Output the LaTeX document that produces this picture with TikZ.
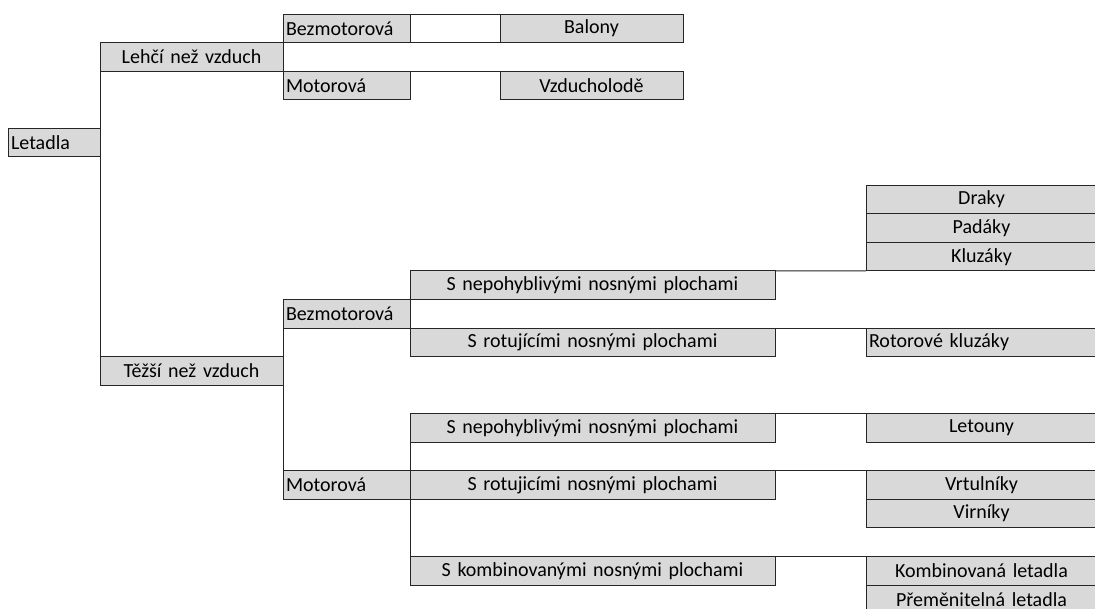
\documentclass[tikz,border=0pt]{standalone}
\usepackage{fontspec}
\setmainfont{Carlito}
\definecolor{cellgray}{HTML}{D9D9D9}
\definecolor{linec}{HTML}{262626}
\begin{document}
\begin{tikzpicture}[x=1pt,y=-1pt,
  cell/.style={draw=linec, fill=cellgray, line width=1pt, minimum height=28.55pt,
    inner xsep=3pt, inner ysep=0pt, outer sep=0pt, anchor=north west, text=black,
    font=\fontsize{20}{22}\selectfont},
  lc/.style={cell, text width=86pt, align=left},
  wl/.style={cell, text width=121pt, align=left},
  wc/.style={cell, text width=177pt, align=center},
  sc/.style={cell, text width=359pt, align=center},
  rc/.style={cell, text width=250pt, align=center},
  rl/.style={cell, text width=250pt, align=left},
  link/.style={draw=linec, line width=1pt}]
\newcommand{\rt}[1]{#1\hspace*{25pt}}
\useasboundingbox (0,0) rectangle (1095,608);
\clip (0,0) rectangle (1095,608);
\fill[white] (0,0) rectangle (1095,608);
% upper part
\node[wl] (bez1) at (283,14) {Bezmotorová};
\node[wc] (bal) at (500,14) {Balony};
\node[wc] (leh) at (100,42.55) {Lehčí než vzduch};
\node[wl] (mot1) at (283,71.1) {Motorová};
\node[wc] (vzd) at (500,71.1) {Vzducholodě};
\node[lc] (let) at (8,128.2) {Letadla};
% right column
\node[rc] (dra) at (866,185.3) {\rt{Draky}};
\node[rc] (pad) at (866,213.85) {\rt{Padáky}};
\node[rc] (klu) at (866,242.4) {\rt{Kluzáky}};
% lower part
\node[sc] (sn1) at (410,270.95) {S nepohyblivými nosnými plochami};
\node[wl] (bez2) at (283,299.5) {Bezmotorová};
\node[sc] (sr1) at (410,328.05) {S rotujícími nosnými plochami};
\node[rl] (rot) at (866,328.05) {Rotorové kluzáky};
\node[wc] (tez) at (100,356.6) {Těžší než vzduch};
\node[sc] (sn2) at (410,413.7) {S nepohyblivými nosnými plochami};
\node[rc] (leto) at (866,413.7) {\rt{Letouny}};
\node[wl] (mot2) at (283,470.8) {Motorová};
\node[sc] (sr2) at (410,470.8) {S rotujicími nosnými plochami};
\node[rc] (vrt) at (866,470.8) {\rt{Vrtulníky}};
\node[rc] (vir) at (866,499.35) {\rt{Virníky}};
\node[sc] (sk) at (410,556.45) {S kombinovanými nosnými plochami};
\node[rc] (kom) at (866,556.45) {\rt{Kombinovaná letadla}};
\node[rc] (pre) at (866,585) {\rt{Přeměnitelná letadla}};
% connectors
\draw[link] (leh.north west) -- (tez.south west);
\draw[link] (bez1.north west) -- (mot1.south west);
\draw[link] (bez1.north east) -- (bal.north west);
\draw[link] (bez1.south east) -- (bal.south west);
\draw[link] (mot1.north east) -- (vzd.north west);
\draw[link] (sn1.north east) -- (klu.south west);
\draw[link] (sr1.north east) -- (rot.north west);
\draw[link] (bez2.north west) -- (mot2.south west);
\draw[link] (sn2.north west) -- (sk.south west);
\draw[link] (sn2.north east) -- (leto.north west);
\draw[link] (sr2.north east) -- (vrt.north west);
\draw[link] (sk.north east) -- (kom.north west);
\end{tikzpicture}
\end{document}
